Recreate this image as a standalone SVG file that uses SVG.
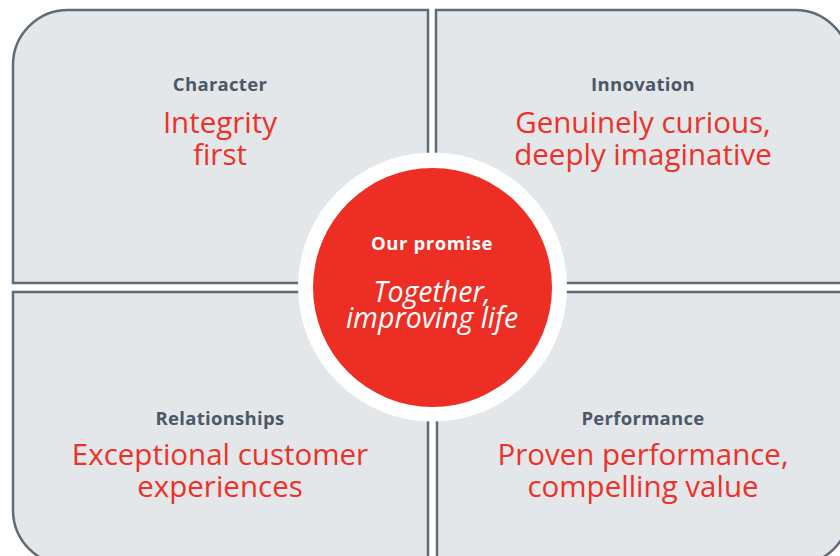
<svg xmlns="http://www.w3.org/2000/svg" width="840" height="556" viewBox="0 0 840 556">
<style>
.q{fill:#e4e7ea;stroke:#5f6c78;stroke-width:2.5}
.h{font-family:"Open Sans","Liberation Sans",sans-serif;font-weight:bold;font-size:18.5px;fill:#4b5866;text-anchor:middle;letter-spacing:0.3px}
.v{font-family:"Open Sans","Liberation Sans",sans-serif;font-size:29.5px;fill:#ee3128;text-anchor:middle}
.ph{font-family:"Open Sans","Liberation Sans",sans-serif;font-weight:bold;font-size:18.5px;fill:#ffffff;text-anchor:middle;letter-spacing:0.6px}
.pv{font-family:"Open Sans","Liberation Sans",sans-serif;font-style:italic;font-size:28.5px;fill:#ffffff;text-anchor:middle}
</style>
<rect width="840" height="556" fill="#ffffff"/>
<g id="character">
<path class="q" d="M428,10 L428,283 L13,283 L13,65 A55,55 0 0 1 68,10 Z"/>
<text class="h" x="220" y="91">Character</text>
<text class="v" x="220" y="133">Integrity</text>
<text class="v" x="220" y="165">first</text>
</g>
<g id="innovation">
<path class="q" d="M436,10 L795,10 A55,55 0 0 1 850,65 L850,283 L436,283 Z"/>
<text class="h" x="643" y="91">Innovation</text>
<text class="v" x="643" y="133">Genuinely curious,</text>
<text class="v" x="643" y="165">deeply imaginative</text>
</g>
<g id="relationships">
<path class="q" d="M13,292 L428,292 L428,565 L68,565 A55,55 0 0 1 13,510 Z"/>
<text class="h" x="220" y="425">Relationships</text>
<text class="v" x="220" y="465">Exceptional customer</text>
<text class="v" x="220" y="497">experiences</text>
</g>
<g id="performance">
<path class="q" d="M437,292 L850,292 L850,510 A55,55 0 0 1 795,565 L437,565 Z"/>
<text class="h" x="643" y="425">Performance</text>
<text class="v" x="643" y="465">Proven performance,</text>
<text class="v" x="643" y="497">compelling value</text>
</g>
<g id="promise">
<circle cx="432.5" cy="287" r="134.5" fill="#ffffff"/>
<circle cx="432.5" cy="287.5" r="119.5" fill="#ec2e24"/>
<text class="ph" x="432" y="250">Our promise</text>
<text class="pv" x="432" y="302">Together,</text>
<text class="pv" x="432" y="328">improving life</text>
</g>
<g id="connectors"></g>
</svg>
